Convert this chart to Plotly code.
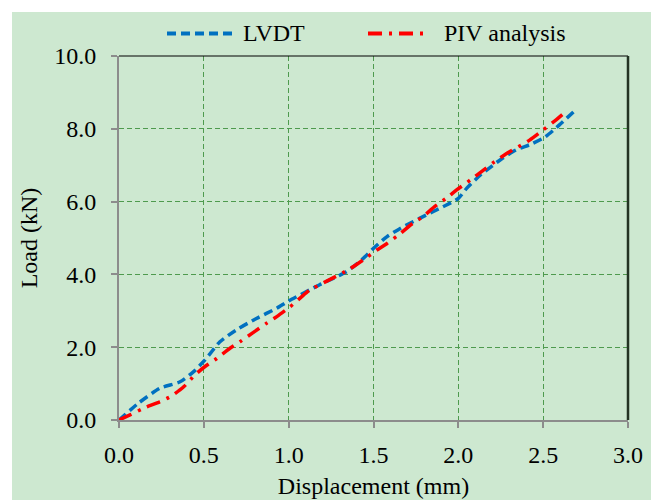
import plotly.graph_objects as go

# ---- data ----
lvdt_x = [0, 0.114, 0.24, 0.36, 0.44, 0.507, 0.595, 0.69, 0.81, 0.93, 1.0, 1.18, 1.34,
          1.43, 1.51, 1.58, 1.66, 1.81, 1.91, 2.0, 2.05, 2.13, 2.26, 2.34, 2.43, 2.51, 2.58, 2.68]
lvdt_y = [0, 0.46, 0.87, 1.05, 1.33, 1.65, 2.15, 2.47, 2.79, 3.07, 3.27, 3.71, 4.07,
          4.40, 4.76, 5.04, 5.27, 5.63, 5.86, 6.09, 6.37, 6.73, 7.19, 7.42, 7.58, 7.77, 8.04, 8.47]

piv_x = [0, 0.065, 0.153, 0.24, 0.31, 0.383, 0.448, 0.507, 0.576, 0.654, 0.713, 0.79, 0.87,
         0.93, 1.008, 1.077, 1.125, 1.21, 1.36, 1.44, 1.52, 1.58, 1.66, 1.73, 1.79, 1.86,
         1.94, 1.99, 2.07, 2.15, 2.20, 2.28, 2.37, 2.42, 2.50, 2.58, 2.64]
piv_y = [0, 0.14, 0.34, 0.50, 0.66, 0.92, 1.24, 1.47, 1.69, 1.97, 2.15, 2.40, 2.66,
         2.84, 3.11, 3.39, 3.57, 3.78, 4.15, 4.40, 4.67, 4.85, 5.13, 5.40, 5.58, 5.86,
         6.13, 6.32, 6.59, 6.87, 7.05, 7.31, 7.55, 7.69, 7.97, 8.26, 8.50]

series_names = ["LVDT", "PIV analysis"]
x_ticks = [0.0, 0.5, 1.0, 1.5, 2.0, 2.5, 3.0]
x_tick_labels = ["0.0", "0.5", "1.0", "1.5", "2.0", "2.5", "3.0"]
y_ticks = [0, 2, 4, 6, 8, 10]
y_tick_labels = ["0.0", "2.0", "4.0", "6.0", "8.0", "10.0"]
x_title = "Displacement (mm)"
y_title = "Load (kN)"

# ---- styling ----
FONT = "Liberation Serif, Times New Roman, serif"
GREEN = "#cde8d0"
BLUE = "#0070c0"
RED = "#ff0000"
BLUE_DASH = "9px,5px"
RED_DASH = "14px,7px,3px,7px"

# the page body adds an 8px offset; positions below are in figure pixels
OFF = 8
W, H = 659, 500
ML, MR, MT, MB = 119 - OFF, 659 - (628 - OFF), 56 - OFF, 500 - (420 - OFF)
PW, PH = W - ML - MR, H - MT - MB


def px_x(p):
    """screen pixel x -> paper coordinate"""
    return (p - OFF - ML) / PW


def px_y(p):
    """screen pixel y -> paper coordinate"""
    return (H - MB - (p - OFF)) / PH


fig = go.Figure()
fig.add_trace(go.Scatter(x=lvdt_x, y=lvdt_y, mode="lines", name=series_names[0],
                         line=dict(color=BLUE, width=3.5, dash=BLUE_DASH,
                                   shape="spline", smoothing=0.6),
                         showlegend=False))
fig.add_trace(go.Scatter(x=piv_x, y=piv_y, mode="lines", name=series_names[1],
                         line=dict(color=RED, width=3.5, dash=RED_DASH,
                                   shape="spline", smoothing=0.6),
                         showlegend=False))

shapes = [
    # green chart area (white strip at top and left)
    dict(type="rect", xref="paper", yref="paper", x0=px_x(12), x1=px_x(W + 20),
         y0=px_y(H + 20), y1=px_y(12), fillcolor=GREEN, line=dict(width=0), layer="below"),
    # top border
    dict(type="line", xref="paper", yref="paper", x0=0, x1=1, y0=1, y1=1,
         line=dict(color="#000000", width=1)),
    # right border
    dict(type="line", xref="paper", yref="paper", x0=1, x1=1, y0=0, y1=1,
         line=dict(color="#233323", width=2.5)),
    # legend samples
    dict(type="line", xref="paper", yref="paper", x0=px_x(167), x1=px_x(237),
         y0=px_y(33.5), y1=px_y(33.5), line=dict(color=BLUE, width=4, dash=BLUE_DASH)),
    dict(type="line", xref="paper", yref="paper", x0=px_x(368), x1=px_x(427),
         y0=px_y(33.5), y1=px_y(33.5), line=dict(color=RED, width=4, dash=RED_DASH)),
]

annotations = [
    dict(text=series_names[0], xref="paper", yref="paper", x=px_x(241), y=px_y(33),
         xanchor="left", yanchor="middle", showarrow=False,
         font=dict(family=FONT, size=24, color="#000000")),
    dict(text=series_names[1], xref="paper", yref="paper", x=px_x(442), y=px_y(33),
         xanchor="left", yanchor="middle", showarrow=False,
         font=dict(family=FONT, size=24, color="#000000")),
]

axis_common = dict(
    showline=True, linecolor="#8c8c8c", linewidth=2,
    ticks="outside", tickcolor="#8c8c8c", ticklen=6, tickwidth=2,
    showgrid=True, gridcolor="#4e9a4e", gridwidth=1.4, griddash="5px,3px",
    zeroline=False, automargin=False,
    tickfont=dict(family=FONT, size=24, color="#000000"),
)

fig.update_layout(
    width=W, height=H,
    margin=dict(l=ML, r=MR, t=MT, b=MB, pad=0, autoexpand=False),
    paper_bgcolor="#ffffff",
    plot_bgcolor=GREEN,
    font=dict(family=FONT, size=24, color="#000000"),
    shapes=shapes,
    annotations=annotations,
    xaxis=dict(range=[0, 3], tickvals=x_ticks, ticktext=x_tick_labels,
               title=dict(text=x_title, font=dict(family=FONT, size=24), standoff=10),
               ticklabelstandoff=6, **axis_common),
    yaxis=dict(range=[0, 10], tickvals=y_ticks, ticktext=y_tick_labels,
               title=dict(text=y_title, font=dict(family=FONT, size=24), standoff=10),
               ticklabelstandoff=10, **axis_common),
)

fig.write_html("out.html")
